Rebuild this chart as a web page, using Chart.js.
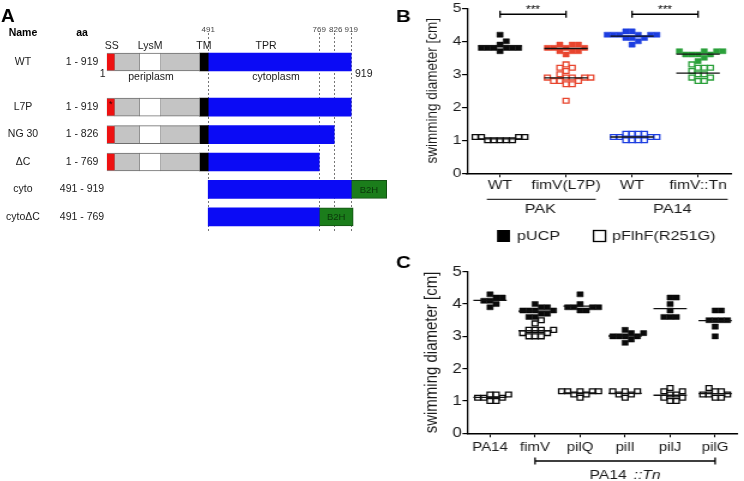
<!DOCTYPE html>
<html><head><meta charset="utf-8"><title>FimV constructs and swimming</title>
<script src="https://cdn.jsdelivr.net/npm/chart.js@4.4.1/dist/chart.umd.min.js"></script>
<style>
html,body{margin:0;padding:0;background:#fff;}
body{width:744px;height:481px;position:relative;overflow:hidden;}
canvas{position:absolute;}
</style></head><body>
<canvas id="cA1" width="400" height="85" style="left:0px;top:0px;width:400px;height:85px"></canvas>
<canvas id="cA2" width="400" height="150" style="left:0px;top:85px;width:400px;height:150px"></canvas>
<canvas id="cB" width="295" height="250" style="left:390px;top:0px;width:354px;height:250px"></canvas>
<canvas id="cC" width="295" height="231" style="left:390px;top:250px;width:354px;height:231px"></canvas>
<script>
// ================= DATA =================
// Panel A: FimV constructs (schematic, not-to-scale diagram units)
const constructNames = ['WT', 'L7P', 'NG 30', 'ΔC', 'cyto', 'cytoΔC'];
const aaRanges = ['1 - 919', '1 - 919', '1 - 826', '1 - 769', '491 - 919', '491 - 769'];
const ssSpans    = [[0, 8], [0, 8], [0, 8], [0, 8], null, null];
const peri1Spans = [[8, 33], [8, 33], [8, 33], [8, 33], null, null];
const lysmSpans  = [[33, 54], [33, 54], [33, 54], [33, 54], null, null];
const peri2Spans = [[54, 93], [54, 93], [54, 93], [54, 93], null, null];
const tmSpans    = [[93, 101.5], [93, 101.5], [93, 101.5], [93, 101.5], null, null];
const tprSpans   = [[101.5, 244.5], [101.5, 244.5], [101.5, 227.5], [101.5, 212.5], [101.5, 244.5], [101.5, 212.5]];
const b2hSpans   = [null, null, null, null, [244.5, 280], [212.5, 246.5]];
const mutationMarks = [null, '*', null, null, null, null];
const boundaryLabels = ['491', '769', '826', '919'];
const boundaryUnits  = [101.5, 212.5, 227.5, 244.5];

// Panel B: swimming diameter [cm]
const bCategories = ['WT', 'fimV(L7P)', 'WT', 'fimV::Tn'];
const bStrains = ['PAK', 'PA14'];
const bStrainMembers = [[0, 1], [2, 3]];
const B_PAK_WT_pUCP    = [3.8, 3.8, 3.8, 3.8, 3.8, 3.8, 3.9, 4.0, 4.2, 3.7];
const B_PAK_WT_pFlhF   = [1.1, 1.1, 1.0, 1.0, 1.0, 1.0, 1.0, 1.1, 1.1];
const B_PAK_L7P_pUCP   = [3.9, 3.9, 3.9, 3.8, 3.8, 3.8, 3.8, 3.7, 3.7, 3.7, 3.6];
const B_PAK_L7P_pFlhF  = [3.3, 3.2, 3.2, 3.1, 3.0, 2.9, 2.9, 2.9, 2.9, 2.9, 2.8, 2.8, 2.8, 2.7, 2.7, 2.2];
const B_PA14_WT_pUCP   = [4.3, 4.3, 4.2, 4.2, 4.2, 4.2, 4.2, 4.2, 4.1, 4.1, 4.1, 4.0, 3.9];
const B_PA14_WT_pFlhF  = [1.2, 1.2, 1.2, 1.2, 1.1, 1.1, 1.1, 1.1, 1.0, 1.0, 1.0, 1.0];
const B_PA14_Tn_pUCP   = [3.7, 3.7, 3.7, 3.7, 3.6, 3.6, 3.6, 3.6, 3.5, 3.4];
const B_PA14_Tn_pFlhF  = [3.3, 3.2, 3.2, 3.2, 3.1, 3.0, 3.0, 2.9, 2.9, 2.8, 2.8];
const bSigPairs = [[0, 1], [2, 3]];
const bSigLabels = ['***', '***'];
const bSigLevel = 4.82;
const legendLabels = ['pUCP', 'pFlhF(R251G)'];

// Panel C: swimming diameter [cm]
const cCategories = ['PA14', 'fimV', 'pilQ', 'pilI', 'pilJ', 'pilG'];
const C_PA14_pUCP  = [4.1, 4.2, 4.0, 3.9, 4.2, 4.1, 4.3];
const C_PA14_pFlhF = [1.1, 1.2, 1.0, 1.0, 1.1, 1.2, 1.2, 1.1];
const C_fimV_pUCP  = [4.0, 3.9, 3.9, 3.8, 3.8, 3.8, 3.8, 3.7, 3.7, 3.6, 3.6];
const C_fimV_pFlhF = [3.5, 3.4, 3.2, 3.2, 3.2, 3.2, 3.1, 3.1, 3.0, 3.0, 3.0];
const C_pilQ_pUCP  = [4.3, 4.0, 3.9, 3.9, 3.9, 3.9, 3.8, 3.8];
const C_pilQ_pFlhF = [1.3, 1.3, 1.3, 1.3, 1.3, 1.2, 1.2, 1.1];
const C_pilI_pUCP  = [3.2, 3.1, 3.1, 3.0, 3.0, 3.0, 3.0, 2.9, 2.8];
const C_pilI_pFlhF = [1.3, 1.3, 1.3, 1.2, 1.2, 1.1];
const C_pilJ_pUCP  = [4.2, 4.2, 4.0, 3.8, 3.6, 3.6, 3.6];
const C_pilJ_pFlhF = [1.4, 1.3, 1.3, 1.2, 1.2, 1.1, 1.1, 1.0, 1.0];
const C_pilG_pUCP  = [3.8, 3.8, 3.5, 3.5, 3.5, 3.5, 3.3, 3.0];
const C_pilG_pFlhF = [1.4, 1.3, 1.3, 1.2, 1.2, 1.2, 1.1, 1.1];
const cTnRange = [1, 5];

// ================= DRAWING =================
const FONT = '"Liberation Sans", Arial, sans-serif';
const SX = 1.2; // panels B/C of the reference are widened horizontally
const bColors = ['#0a0a0a', '#e8452e', '#1d3ee0', '#2aa03a'];

function meanOf(a) { return a.reduce((s, v) => s + v, 0) / a.length; }
// GraphPad-like scatter: points placed bottom-up at the nearest free column
function swarmGroups(groups, center, step, hUnits) {
  const pts = [];
  groups.forEach((vals, g) => (vals || []).forEach(v => pts.push({g, v})));
  const order = pts.slice().sort((a, b) => a.v - b.v || a.g - b.g);
  const placed = [];
  order.forEach(p => {
    let off = 0;
    for (let t = 0; t < 80; t++) {
      const cand = t === 0 ? 0 : (t % 2 ? 1 : -1) * Math.ceil(t / 2);
      const clash = placed.some(q => Math.abs(q.off - cand) < 0.95 && Math.abs(q.v - p.v) < hUnits);
      if (!clash) { off = cand; break; }
    }
    p.off = off; placed.push(p);
  });
  return groups.map((vals, g) => pts.filter(p => p.g === g).map(p => ({x: center + p.off * step, y: p.v})));
}
function dotDatasets(filled, open, colors, step, hw) {
  const pointSets = [], lineSets = [];
  filled.forEach((fv, i) => {
    const ov = open[i];
    const [fp, op] = swarmGroups([fv, ov], i, step, 0.165);
    const col = colors[i];
    [[fv, fp, false], [ov, op, true]].forEach(([vals, pts, isOpen]) => {
      if (!vals || !vals.length) return;
      pointSets.push({type: 'scatter', data: pts, showLine: false,
        pointStyle: 'rect', pointRadius: isOpen ? 3.4 : 3.6,
        pointBackgroundColor: isOpen ? '#ffffff' : col, pointBorderColor: col,
        pointBorderWidth: isOpen ? 1.3 : 0.5, order: 2});
      const m = meanOf(vals);
      lineSets.push({type: 'line', data: [{x: i - hw, y: m}, {x: i + hw, y: m}], showLine: true,
        borderColor: '#111', borderWidth: 1.3, pointRadius: 0, fill: false, order: 1});
    });
  });
  return lineSets.concat(pointSets);
}
function dotScales(cats, xHeight, yWidth, tickFont, yFont, titleFont, titlePad, xPad) {
  return {
    x: {type: 'linear', min: -0.5, max: cats.length - 0.5,
      afterBuildTicks: s => { s.ticks = cats.map((c, i) => ({value: i})); },
      afterFit: s => { s.height = xHeight; },
      ticks: {callback: (v, i) => cats[i], autoSkip: false, maxRotation: 0, minRotation: 0,
        font: {family: FONT, size: tickFont}, color: '#1a1a1a', padding: xPad},
      grid: {drawOnChartArea: false, drawTicks: true, tickLength: 4, color: '#000', lineWidth: 1},
      border: {display: true, color: '#000', width: 1.5}},
    y: {type: 'linear', min: 0, max: 5,
      afterFit: s => { s.width = yWidth; },
      ticks: {stepSize: 1, font: {family: FONT, size: yFont}, color: '#1a1a1a', padding: 0.5},
      grid: {drawOnChartArea: false, drawTicks: true, tickLength: 4.2, color: '#000', lineWidth: 1.2},
      border: {display: true, color: '#000', width: 1.3},
      title: {display: true, text: 'swimming diameter [cm]', color: '#1a1a1a',
        font: {family: FONT, size: titleFont}, padding: {top: titlePad, bottom: 0}}}
  };
}
const commonOpts = {responsive: false, animation: false, devicePixelRatio: 1, events: []};

// ----- Panel A -----
function panelAPlugin(rows, lineTop, lineBottom, isTop) {
  return {
    id: 'panelA' + (isTop ? 'top' : 'rest'),
    beforeDatasetsDraw(chart) {
      const ctx = chart.ctx, x = chart.scales.x;
      ctx.save();
      ctx.strokeStyle = '#555'; ctx.lineWidth = 0.8; ctx.setLineDash([2, 2]);
      boundaryUnits.forEach(u => {
        const px = Math.round(x.getPixelForValue(u)) + 0.5;
        ctx.beginPath(); ctx.moveTo(px, lineTop); ctx.lineTo(px, lineBottom); ctx.stroke();
      });
      ctx.restore();
    },
    afterDatasetsDraw(chart) {
      const ctx = chart.ctx, x = chart.scales.x, y = chart.scales.y;
      ctx.save();
      ctx.textBaseline = 'middle'; ctx.textAlign = 'center';
      rows.forEach((r, k) => {
        const py = y.getPixelForValue(k);
        ctx.fillStyle = '#1a1a1a'; ctx.font = '10.5px ' + FONT;
        ctx.fillText(constructNames[r], 23, py);
        ctx.fillText(aaRanges[r], 82, py);
        if (b2hSpans[r]) {
          ctx.fillStyle = '#0b360b'; ctx.font = '9.5px ' + FONT;
          ctx.fillText('B2H', x.getPixelForValue((b2hSpans[r][0] + b2hSpans[r][1]) / 2), py + 0.5);
        }
        if (mutationMarks[r] && ssSpans[r]) {
          ctx.fillStyle = '#3a0000'; ctx.font = '9px ' + FONT;
          ctx.fillText(mutationMarks[r], x.getPixelForValue((ssSpans[r][0] + ssSpans[r][1]) / 2), py - 3);
        }
      });
      if (isTop) {
        ctx.fillStyle = '#000';
        ctx.textAlign = 'left'; ctx.textBaseline = 'alphabetic';
        ctx.font = 'bold 19px ' + FONT; ctx.fillText('A', 1, 21.7);
        ctx.textAlign = 'center'; ctx.textBaseline = 'middle';
        ctx.font = 'bold 10.5px ' + FONT;
        ctx.fillText('Name', 23, 33); ctx.fillText('aa', 82, 33);
        ctx.fillStyle = '#444'; ctx.font = '8px ' + FONT;
        boundaryLabels.forEach((t, k) => ctx.fillText(t, x.getPixelForValue(boundaryUnits[k]) + (k === 2 ? 1.5 : 0), 29.5));
        ctx.fillStyle = '#1a1a1a'; ctx.font = '10.5px ' + FONT;
        ctx.fillText('SS', x.getPixelForValue((ssSpans[0][0] + ssSpans[0][1]) / 2) + 1, 46.5);
        ctx.fillText('LysM', x.getPixelForValue((lysmSpans[0][0] + lysmSpans[0][1]) / 2), 46.5);
        ctx.fillText('TM', x.getPixelForValue((tmSpans[0][0] + tmSpans[0][1]) / 2), 46.5);
        ctx.fillText('TPR', 266, 46.5);
        ctx.fillText('periplasm', 151, 77);
        ctx.fillText('cytoplasm', 276, 77);
        ctx.textAlign = 'right'; ctx.fillText('1', 105.5, 74.5);
        ctx.textAlign = 'left'; ctx.fillText(String(919), 355, 74.5);
      }
      ctx.restore();
    }
  };
}
function buildA(id, rows, padTop, padBottom, lineTop, lineBottom, isTop) {
  const nb = {top: 1, bottom: 1, left: 0.6, right: 0.6};
  const mk = (label, spans, bg, bc, bw) => ({label, data: rows.map(r => spans[r]),
    backgroundColor: bg, borderColor: bc, borderWidth: bw, borderSkipped: false,
    grouped: false, barThickness: 18});
  return new Chart(document.getElementById(id), {
    type: 'bar',
    data: {labels: rows.map(r => constructNames[r]), datasets: [
      mk('SS', ssSpans, '#ee1111', '#8a8a8a', nb),
      mk('periplasm', peri1Spans, '#c4c4c4', '#6e6e6e', nb),
      mk('LysM', lysmSpans, '#ffffff', '#6e6e6e', nb),
      mk('periplasm ', peri2Spans, '#c4c4c4', '#6e6e6e', nb),
      mk('TM', tmSpans, '#000000', '#000000', 0),
      mk('TPR', tprSpans, '#0b0bf5', '#0b0bf5', 0),
      mk('B2H', b2hSpans, '#1b7d1b', '#145214', 1)
    ]},
    options: Object.assign({}, commonOpts, {
      indexAxis: 'y',
      layout: {padding: {left: 106.7, right: 0, top: padTop, bottom: padBottom}},
      scales: {x: {type: 'linear', min: 0, max: 293.3, display: false},
               y: {type: 'category', display: false, offset: true}},
      plugins: {legend: {display: false}, tooltip: {enabled: false}}
    }),
    plugins: [panelAPlugin(rows, lineTop, lineBottom, isTop)]
  });
}
buildA('cA1', [0], 44, 5, 33, 85, true);
buildA('cA2', [1, 2, 3, 4, 5], 8.5, 4.5, 0, 148, false);

// ----- Panel B -----
const bPlugin = {
  id: 'bAnnot',
  afterDraw(chart) {
    const ctx = chart.ctx, x = chart.scales.x, y = chart.scales.y;
    ctx.save();
    ctx.fillStyle = '#000'; ctx.strokeStyle = '#000';
    ctx.font = 'bold 17px ' + FONT; ctx.textAlign = 'left'; ctx.textBaseline = 'alphabetic';
    ctx.fillText('B', 5, 21.5);
    ctx.lineWidth = 1.3;
    bSigPairs.forEach((p, k) => {
      const x0 = x.getPixelForValue(p[0]), x1 = x.getPixelForValue(p[1]), py = y.getPixelForValue(bSigLevel);
      ctx.beginPath();
      ctx.moveTo(x0, py - 3.5); ctx.lineTo(x0, py + 3.5);
      ctx.moveTo(x0, py); ctx.lineTo(x1, py);
      ctx.moveTo(x1, py - 3.5); ctx.lineTo(x1, py + 3.5);
      ctx.stroke();
      ctx.font = '10px ' + FONT; ctx.textAlign = 'center'; ctx.textBaseline = 'alphabetic';
      ctx.fillText(bSigLabels[k], (x0 + x1) / 2, py - 1.5);
    });
    ctx.strokeStyle = '#333'; ctx.lineWidth = 1.3;
    bStrains.forEach((s, k) => {
      const m = bStrainMembers[k];
      const xa = x.getPixelForValue(m[0] - 0.2), xb = x.getPixelForValue(m[m.length - 1] + 0.45);
      ctx.beginPath(); ctx.moveTo(xa, 199.3); ctx.lineTo(xb, 199.3); ctx.stroke();
      ctx.fillStyle = '#1a1a1a'; ctx.font = '13.5px ' + FONT; ctx.textAlign = 'center'; ctx.textBaseline = 'middle';
      ctx.fillText(s, x.getPixelForValue((m[0] + m[m.length - 1]) / 2 + 0.11), 209.5);
    });
    ctx.fillStyle = '#000';
    ctx.fillRect(107 / SX, 230, 13 / SX, 12);
    ctx.lineWidth = 1.3; ctx.strokeStyle = '#000';
    ctx.strokeRect(203.5 / SX, 230.5, 12 / SX, 11);
    ctx.fillStyle = '#1a1a1a'; ctx.font = '13.5px ' + FONT; ctx.textAlign = 'left'; ctx.textBaseline = 'middle';
    ctx.fillText(legendLabels[0], 127 / SX, 236.5);
    ctx.fillText(legendLabels[1], 222 / SX, 236.5);
    ctx.restore();
  }
};
new Chart(document.getElementById('cB'), {
  type: 'scatter',
  data: {datasets: dotDatasets(
    [B_PAK_WT_pUCP, B_PAK_L7P_pUCP, B_PA14_WT_pUCP, B_PA14_Tn_pUCP],
    [B_PAK_WT_pFlhF, B_PAK_L7P_pFlhF, B_PA14_WT_pFlhF, B_PA14_Tn_pFlhF],
    bColors, 0.094, 0.33)},
  options: Object.assign({}, commonOpts, {
    layout: {padding: {left: 0, right: 13 / SX, top: 7.3, bottom: 0}},
    scales: dotScales(bCategories, 76.7, 77 / SX, 13, 13, 13.5, 27, 0),
    plugins: {legend: {display: false}, tooltip: {enabled: false}}
  }),
  plugins: [bPlugin]
});

// ----- Panel C -----
const cPlugin = {
  id: 'cAnnot',
  afterDraw(chart) {
    const ctx = chart.ctx, x = chart.scales.x;
    ctx.save();
    ctx.fillStyle = '#000'; ctx.strokeStyle = '#000';
    ctx.font = 'bold 17px ' + FONT; ctx.textAlign = 'left'; ctx.textBaseline = 'alphabetic';
    ctx.fillText('C', 5, 18);
    const x0 = x.getPixelForValue(cTnRange[0]), x1 = x.getPixelForValue(cTnRange[1]);
    ctx.lineWidth = 1.3;
    ctx.beginPath();
    ctx.moveTo(x0, 207.5); ctx.lineTo(x0, 214.5);
    ctx.moveTo(x0, 211); ctx.lineTo(x1, 211);
    ctx.moveTo(x1, 207.5); ctx.lineTo(x1, 214.5);
    ctx.stroke();
    ctx.fillStyle = '#1a1a1a';
    ctx.font = '13px ' + FONT;
    const w1 = ctx.measureText('PA14').width;
    const gap = 6;
    ctx.font = 'italic 13px ' + FONT;
    const w2 = ctx.measureText('::Tn').width;
    const start = (x0 + x1) / 2 - (w1 + gap + w2) / 2;
    ctx.textAlign = 'left'; ctx.textBaseline = 'middle';
    ctx.font = '13px ' + FONT; ctx.fillText('PA14', start, 225.5);
    ctx.font = 'italic 13px ' + FONT; ctx.fillText('::Tn', start + w1 + gap, 225.5);
    ctx.restore();
  }
};
const cFilled = [C_PA14_pUCP, C_fimV_pUCP, C_pilQ_pUCP, C_pilI_pUCP, C_pilJ_pUCP, C_pilG_pUCP];
const cOpen = [C_PA14_pFlhF, C_fimV_pFlhF, C_pilQ_pFlhF, C_pilI_pFlhF, C_pilJ_pFlhF, C_pilG_pFlhF];
new Chart(document.getElementById('cC'), {
  type: 'scatter',
  data: {datasets: dotDatasets(cFilled, cOpen, cCategories.map(() => '#0a0a0a'), 0.137, 0.37)},
  options: Object.assign({}, commonOpts, {
    layout: {padding: {left: 0, right: 4 / SX, top: 21.7, bottom: 0}},
    scales: dotScales(cCategories, 47.7, 77.5 / SX, 12.5, 14, 15, 26, 2.5),
    plugins: {legend: {display: false}, tooltip: {enabled: false}}
  }),
  plugins: [cPlugin]
});
</script></body></html>
